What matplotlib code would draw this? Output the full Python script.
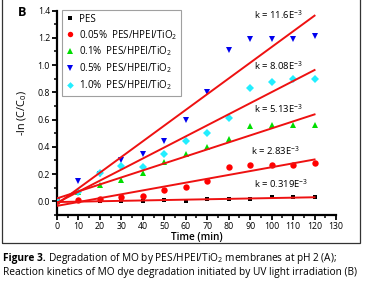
import numpy as np
import matplotlib
matplotlib.use("Agg")
import matplotlib.pyplot as plt
from matplotlib.patches import Rectangle

plt.rcParams['font.family'] = ['Open Sans', 'DejaVu Sans']
plt.rcParams['mathtext.fontset'] = 'custom'
plt.rcParams['mathtext.rm'] = 'Open Sans'
plt.rcParams['mathtext.it'] = 'Open Sans:italic'
plt.rcParams['mathtext.bf'] = 'Open Sans:bold'

time_min = [0, 10, 20, 30, 40, 50, 60, 70, 80, 90, 100, 110, 120]
pes = [0.0, 0.0, 0.005, 0.0, 0.0, 0.01, 0.005, 0.017, 0.017, 0.02, 0.03, 0.03, 0.03]
m005 = [0.0, 0.012, 0.02, 0.03, 0.04, 0.085, 0.105, 0.153, 0.255, 0.268, 0.268, 0.268, 0.28]
m01 = [0.0, 0.07, 0.12, 0.16, 0.21, 0.29, 0.35, 0.40, 0.46, 0.55, 0.56, 0.56, 0.56]
m05 = [0.0, 0.15, 0.20, 0.30, 0.35, 0.44, 0.60, 0.80, 1.11, 1.19, 1.19, 1.19, 1.21]
m10 = [0.0, 0.07, 0.21, 0.26, 0.255, 0.35, 0.44, 0.50, 0.61, 0.835, 0.876, 0.90, 0.895]

labels = ['PES', '0.05%  PES/HPEI/TiO$_2$', '0.1%  PES/HPEI/TiO$_2$',
          '0.5%  PES/HPEI/TiO$_2$', '1.0%  PES/HPEI/TiO$_2$']
k_labels = ['k = 0.319E$^{-3}$', 'k = 2.83E$^{-3}$', 'k = 5.13E$^{-3}$',
            'k = 11.6E$^{-3}$', 'k = 8.08E$^{-3}$']
k_pos = [(254, 184), (251, 151), (254, 109), (254, 15), (254, 66)]

series = [pes, m005, m01, m05, m10]
colors = ['#000000', '#ff0000', '#00dd00', '#0000ee', '#22eeff']
markers = ['s', 'o', '^', 'v', 'D']
msizes = [3.4, 4.6, 5.0, 5.0, 4.0]

W, H = 366, 287
fig = plt.figure(figsize=(W / 100, H / 100), dpi=100)
ax = fig.add_axes([57 / W, 1 - 215 / H, (336 - 57) / W, (215 - 10.6) / H])

t = np.array(time_min, dtype=float)
handles = []
for ys, c, m, ms in zip(series, colors, markers, msizes):
    h, = ax.plot(t, ys, linestyle='none', marker=m, color=c, markersize=ms,
                 markeredgewidth=0, zorder=3)
    handles.append(h)

tt = np.array([0, 120], dtype=float)
for ys in series:
    k, b = np.polyfit(t, np.array(ys), 1)
    ax.plot(tt, k * tt + b, color='#ee1111', lw=1.4, zorder=4)

for lab, (px, py) in zip(k_labels, k_pos):
    fig.text(px / W, 1 - py / H, lab, fontsize=6.8, ha='left', va='center')

ax.set_xlim(0, 130)
ax.set_ylim(-0.1, 1.4)
ax.set_xticks(np.arange(0, 131, 10))
ax.set_xticks(np.arange(0, 131, 5), minor=True)
ax.set_yticks(np.arange(0, 1.41, 0.2))
ax.set_yticks(np.arange(-0.1, 1.41, 0.1), minor=True)
ax.set_yticklabels([f'{v:.1f}' for v in np.arange(0, 1.41, 0.2)])
for s in ['top', 'right']:
    ax.spines[s].set_visible(False)
for s in ['left', 'bottom']:
    ax.spines[s].set_linewidth(1.6)
ax.tick_params(which='major', direction='out', length=3.5, width=1.3, labelsize=6.3, pad=1.5)
ax.tick_params(which='minor', direction='out', length=2, width=1.1)

ax.set_xlabel('Time (min)', fontsize=7.2, fontweight='semibold', labelpad=1)
ax.set_ylabel('-ln (C/C$_0$)', fontsize=7.8, labelpad=6)

leg = fig.legend(handles, labels, loc='upper left',
                 bbox_to_anchor=(62 / W, 1 - 10 / H), borderaxespad=0,
                 fontsize=7.0, frameon=True, fancybox=False, handlelength=0.9,
                 handletextpad=0.45, labelspacing=0.3, borderpad=0.4,
                 markerscale=0.85)
leg.get_frame().set_edgecolor('#888888')
leg.get_frame().set_linewidth(0.8)

fig.text(22 / W, 1 - 13 / H, 'B', fontsize=9, fontweight='bold', ha='center', va='center')

fig.patches.append(Rectangle((2 / W, 1 - 243 / H), (360 - 2) / W, 243 / H + 0.05,
                             transform=fig.transFigure, fill=False,
                             edgecolor='#333333', linewidth=0.9))

cap_fs = 7.3
t1 = fig.text(3 / W, 1 - 259 / H, 'Figure 3.', fontsize=cap_fs, fontweight='bold',
              ha='left', va='center')
fig.canvas.draw()
bb = t1.get_window_extent(renderer=fig.canvas.get_renderer())
fig.text((bb.x1 + 2) / W, 1 - 259 / H,
         'Degradation of MO by PES/HPEI/TiO$_2$ membranes at pH 2 (A);',
         fontsize=cap_fs, ha='left', va='center')
fig.text(3 / W, 1 - 273 / H,
         'Reaction kinetics of MO dye degradation initiated by UV light irradiation (B)',
         fontsize=cap_fs, ha='left', va='center')

fig.savefig('out.png', dpi=100)
